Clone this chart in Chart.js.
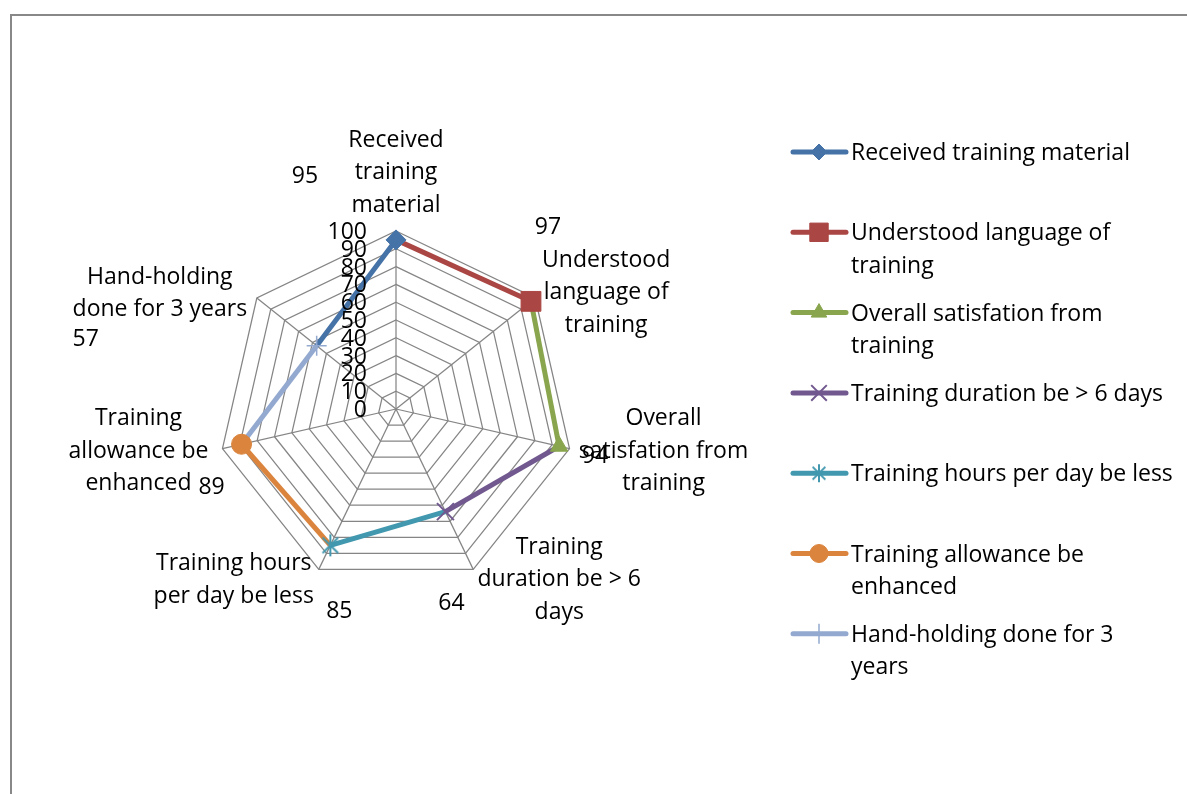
<!DOCTYPE html>
<html>
<head>
<meta charset="utf-8">
<script src="https://cdn.jsdelivr.net/npm/chart.js@4/dist/chart.umd.min.js"></script>
<style>
  html, body { margin: 0; padding: 0; background: #fff; overflow: hidden; }
  canvas { display: block; }
</style>
</head>
<body>
<canvas id="c" width="1187" height="794"></canvas>
<script>
// ---- data ----
const categories = [
  "Received training material",
  "Understood language of training",
  "Overall satisfation from training",
  "Training duration be > 6 days",
  "Training hours per day be less",
  "Training allowance be enhanced",
  "Hand-holding done for 3 years"
];
const values = [95, 97, 94, 64, 85, 89, 57];
const tickValues = [0, 10, 20, 30, 40, 50, 60, 70, 80, 90, 100];

// wrapped text for the axis labels and the legend entries
const categoryLines = [
  ["Received", "training", "material"],
  ["Understood", "language of", "training"],
  ["Overall", "satisfation from", "training"],
  ["Training", "duration be > 6", "days"],
  ["Training hours", "per day be less"],
  ["Training", "allowance be", "enhanced"],
  ["Hand-holding", "done for 3 years"]
];
const legendLines = [
  ["Received training material"],
  ["Understood language of", "training"],
  ["Overall satisfation from", "training"],
  ["Training duration be > 6 days"],
  ["Training hours per day be less"],
  ["Training allowance be", "enhanced"],
  ["Hand-holding done for 3", "years"]
];

// ---- styles ----
const colors = ["#4572A7", "#AA4643", "#89A54E", "#71588F", "#4198AF", "#DB843D", "#93A9CF"];
const FONT = "'Open Sans', Lato, sans-serif";
const FONT_SIZE = 23;
const TEXT_DY = 1.5;

// six-ray asterisk marker
function asterisk(size, color, lw) {
  const c = document.createElement("canvas");
  c.width = size; c.height = size;
  const g = c.getContext("2d");
  const m = size / 2, r = size / 2 - 1;
  g.strokeStyle = color; g.lineWidth = lw; g.lineCap = "butt";
  g.beginPath();
  g.moveTo(m, m - r); g.lineTo(m, m + r);
  const d = r * Math.SQRT1_2;
  g.moveTo(m - d, m - d); g.lineTo(m + d, m + d);
  g.moveTo(m - d, m + d); g.lineTo(m + d, m - d);
  g.stroke();
  return c;
}

const markerStyles = [
  { pointStyle: "rectRot", radius: 10, borderWidth: 1 },
  { pointStyle: "rect", radius: 14, borderWidth: 1 },
  { pointStyle: "triangle", radius: 10, borderWidth: 1 },
  { pointStyle: "crossRot", radius: 12, borderWidth: 2 },
  { pointStyle: asterisk(24, colors[4], 2), radius: 12, borderWidth: 2 },
  { pointStyle: "circle", radius: 10, borderWidth: 1 },
  { pointStyle: "cross", radius: 10, borderWidth: 1.5 }
];
const legendMarkerStyles = [
  { pointStyle: "rectRot", radius: 8, borderWidth: 1 },
  { pointStyle: "rect", radius: 13, borderWidth: 1 },
  { pointStyle: "triangle", radius: 9, borderWidth: 1 },
  { pointStyle: "crossRot", radius: 11, borderWidth: 2 },
  { pointStyle: asterisk(20, colors[4], 2), radius: 10, borderWidth: 2 },
  { pointStyle: "circle", radius: 9, borderWidth: 1 },
  { pointStyle: "cross", radius: 10, borderWidth: 1.5 }
];

// axis label block centres, relative to the outer vertex of each axis
const categoryLabelOffsets = [[0, -60], [71, -7], [94, 1], [86, 9], [-85, 9], [-84, 1], [-97, -6]];
// value label centres, relative to the plotted point
const valueLabelOffsets = [[-91, -65], [17, -75], [36, 9], [6, 90], [9, 65], [-30, 42], [-231, -8]];

// each series joins the previous axis to its own axis
const n = categories.length;
const datasets = categories.map((name, k) => {
  const prev = (k + n - 1) % n;
  const data = categories.map((_, i) => (i === k || i === prev) ? values[i] : null);
  return {
    label: name,
    data,
    borderColor: colors[k],
    backgroundColor: colors[k],
    borderWidth: 5,
    pointRadius: 0,
    pointHoverRadius: 0,
    fill: false,
    spanGaps: false,
    order: -k
  };
});

const overlay = {
  id: "overlay",
  beforeDraw(chart) {
    const ctx = chart.ctx;
    ctx.save();
    ctx.fillStyle = "#fff";
    ctx.fillRect(0, 0, chart.width, chart.height);
    ctx.strokeStyle = "#888888";
    ctx.lineWidth = 2;
    ctx.beginPath();
    ctx.moveTo(11, chart.height + 2);
    ctx.lineTo(11, 15);
    ctx.lineTo(chart.width + 2, 15);
    ctx.stroke();
    ctx.restore();
  },
  afterDatasetsDraw(chart) {
    const ctx = chart.ctx;
    const scale = chart.scales.r;
    ctx.save();
    // markers, drawn above every line
    chart.data.datasets.forEach((ds, k) => {
      const el = chart.getDatasetMeta(k).data[k];
      const m = markerStyles[k];
      ctx.strokeStyle = colors[k];
      ctx.fillStyle = colors[k];
      ctx.lineWidth = m.borderWidth;
      Chart.helpers.drawPoint(ctx, { pointStyle: m.pointStyle, radius: m.radius, rotation: 0, borderWidth: m.borderWidth }, el.x, el.y);
    });

    ctx.fillStyle = "#000";
    ctx.font = FONT_SIZE + "px " + FONT;
    ctx.textBaseline = "middle";

    // tick labels along the top axis
    ctx.textAlign = "right";
    scale.ticks.forEach(t => {
      const d = scale.getDistanceFromCenterForValue(t.value);
      ctx.fillText(String(t.value), scale.xCenter - 29, scale.yCenter - d + TEXT_DY);
    });

    // axis labels
    ctx.textAlign = "center";
    const lh = 32.5;
    categoryLines.forEach((lines, i) => {
      const p = scale.getPointPosition(i, scale.drawingArea);
      const cx = p.x + categoryLabelOffsets[i][0];
      const cy = p.y + categoryLabelOffsets[i][1] + TEXT_DY;
      const top = cy - (lines.length - 1) * lh / 2;
      lines.forEach((s, j) => ctx.fillText(s, cx, top + j * lh));
    });

    // value labels
    values.forEach((v, i) => {
      const p = scale.getPointPosition(i, scale.getDistanceFromCenterForValue(v));
      ctx.fillText(String(v), p.x + valueLabelOffsets[i][0], p.y + valueLabelOffsets[i][1] + TEXT_DY);
    });

    // legend
    const lx0 = 793, lx1 = 846, mx = 819, tx = 851, y0 = 152, step = 80.3, lineGap = 32.5;
    chart.data.datasets.forEach((ds, k) => {
      const y = y0 + k * step;
      ctx.strokeStyle = colors[k];
      ctx.lineWidth = 5;
      ctx.lineCap = "round";
      ctx.beginPath();
      ctx.moveTo(lx0, y);
      ctx.lineTo(lx1, y);
      ctx.stroke();
      const m = legendMarkerStyles[k];
      ctx.fillStyle = colors[k];
      ctx.lineWidth = m.borderWidth;
      ctx.lineCap = "butt";
      Chart.helpers.drawPoint(ctx, { pointStyle: m.pointStyle, radius: m.radius, rotation: 0, borderWidth: m.borderWidth }, mx, y);
      ctx.fillStyle = "#000";
      ctx.textAlign = "left";
      legendLines[k].forEach((s, j) => ctx.fillText(s, tx, y + j * lineGap + TEXT_DY));
    });
    ctx.restore();
  }
};

new Chart(document.getElementById("c"), {
  type: "radar",
  data: { labels: categories, datasets },
  options: {
    responsive: false,
    animation: false,
    devicePixelRatio: 1,
    layout: { padding: { left: 218, right: 612, top: 231, bottom: 207 } },
    plugins: { legend: { display: false }, tooltip: { enabled: false } },
    events: [],
    scales: {
      r: {
        min: 0,
        max: 100,
        ticks: { stepSize: 10, display: false },
        pointLabels: { display: false },
        grid: { color: "#858585", lineWidth: 1.25, circular: false },
        angleLines: { display: true, color: "#858585", lineWidth: 1.25 }
      }
    }
  },
  plugins: [overlay]
});
</script>
</body>
</html>
